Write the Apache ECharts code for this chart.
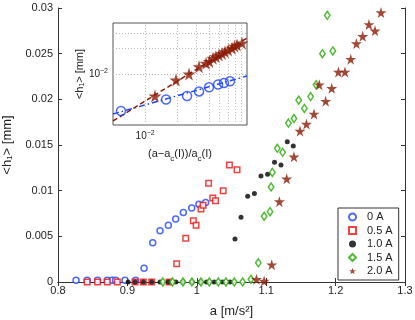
<!DOCTYPE html>
<html>
<head>
<meta charset="utf-8">
<script src="https://cdn.jsdelivr.net/npm/echarts@6/dist/echarts.min.js"></script>
<style>
html, body { margin: 0; padding: 0; background: #fff; }
#container { width: 415px; height: 320px; }
</style>
</head>
<body>
<div id="container"></div>
<script>
var dom = document.getElementById("container");
var myChart = echarts.init(dom);

// main plot: acceleration a [m/s^2] and mean height <h1> [mm], one pair of arrays per current
var a0 = [0.826, 0.842, 0.857, 0.871, 0.878, 0.883, 0.8965, 0.912, 0.924, 0.9365, 0.947, 0.959, 0.9696, 0.9806, 0.9927, 1.003, 1.0128];
var h0 = [0.0002, 0.0002, 0.0002, 0.0002, 0.0002, 0.0002, 0.0002, 0.0002, 0.0015, 0.0043, 0.0056, 0.0062, 0.0069, 0.0076, 0.0081, 0.0085, 0.0087];

var a05 = [0.842, 0.857, 0.871, 0.8855, 0.911, 0.923, 0.935, 0.960, 0.971, 0.984, 0.995, 0.999, 1.006, 1.009, 1.017, 1.023, 1.027, 1.038, 1.047, 1.058];
var h05 = [0, 0, 0, 0, 0, 0, 0, 0, 0.0020, 0.0048, 0.0067, 0.0062, 0.0080, 0.0084, 0.0108, 0.0092, 0.0089, 0.0100, 0.0128, 0.0123];

var a10 = [0.901, 0.911, 0.923, 0.935, 0.947, 0.959, 0.970, 0.980, 0.993, 1.005, 1.014, 1.025, 1.037, 1.048, 1.055, 1.0637, 1.0733, 1.083, 1.0925, 1.102, 1.112, 1.1213, 1.1304, 1.139];
var h10 = [0, 0, 0, 0, 0, 0, 0, 0, 0, 0, 0, 0, 0, 0, 0.0047, 0.0071, 0.0094, 0.0097, 0.0116, 0.0118, 0.0131, 0.0128, 0.01536, 0.0149];

var a15 = [0.951, 0.965, 0.980, 0.993, 1.006, 1.018, 1.031, 1.042, 1.054, 1.066, 1.078, 1.0886, 1.097, 1.1055, 1.107, 1.1088, 1.116, 1.1237, 1.132, 1.140, 1.1468, 1.155, 1.164, 1.1718, 1.181, 1.196, 1.188];
var h15 = [0, 0, 0, 0, 0, 0, 0, 0, 0, 0, 0.0003, 0.0021, 0.0072, 0.0077, 0.0104, 0.0120, 0.01464, 0.0142, 0.0174, 0.0179, 0.0199, 0.0190, 0.0203, 0.0216, 0.0250, 0.0253, 0.0292];

var a20 = [1.086, 1.097, 1.108, 1.119, 1.1295, 1.140, 1.1487, 1.158, 1.1689, 1.1765, 1.1857, 1.1944, 1.204, 1.2135, 1.2218, 1.230, 1.239, 1.248, 1.2568, 1.2654];
var h20 = [0.0003, 0.0001, 0.0019, 0.0088, 0.0113, 0.0137, 0.01653, 0.0173, 0.0184, 0.0216, 0.0198, 0.0212, 0.0230, 0.0230, 0.0244, 0.0261, 0.0269, 0.0282, 0.0275, 0.0295];

var seriesNames = ['0 A', '0.5 A', '1.0 A', '1.5 A', '2.0 A'];

// inset (log-log): reduced acceleration vs <h1>
var insX0 = [0.00594, 0.0157, 0.0247, 0.0320, 0.0397, 0.0482, 0.0548, 0.0624];
var insY0 = [0.00366, 0.0050, 0.0055, 0.00622, 0.00697, 0.00752, 0.00783, 0.0082];
var insX20 = [0.01236, 0.01945, 0.02576, 0.0320, 0.0372, 0.0400, 0.0432, 0.0460, 0.0492, 0.0525, 0.0560, 0.0600, 0.0651, 0.0690, 0.0726, 0.0807];
var insY20 = [0.0055, 0.00849, 0.0100, 0.0122, 0.01337, 0.0140, 0.01533, 0.0160, 0.01676, 0.0175, 0.01832, 0.0192, 0.0201, 0.0212, 0.0220, 0.0232];
var fitX = [0.005, 0.09];
var fitY0 = [0.00337, 0.00948];
var fitY20 = [0.00279, 0.0266];

// inset grid lines (log decades)
var insGridX = [0.006, 0.007, 0.008, 0.009, 0.01, 0.02, 0.03, 0.04, 0.05, 0.06, 0.07, 0.08];
var insGridY = [0.003, 0.004, 0.005, 0.006, 0.007, 0.008, 0.009, 0.01, 0.02, 0.03];

function pairs(xs, ys) {
    return xs.map(function (x, i) { return [x, ys[i]]; });
}

var FONT = 'Liberation Sans';
var blue = '#1f45ff';
var red = '#ee1111';
var green = '#22aa00';
var brown = '#8b1a05';
var star = 'path://M50,0 L61,35 L98,35 L68,57 L79,91 L50,70 L21,91 L32,57 L2,35 L39,35 Z';

function isDecade(v) {
    var l = Math.log(v) / Math.LN10;
    return Math.abs(l - Math.round(l)) < 1e-6;
}
function decadeLabel(v) {
    if (!isDecade(v)) return '';
    var e = Math.round(Math.log(v) / Math.LN10);
    return '10{s|' + (e < 0 ? '\u2212' + (-e) : e) + '}';
}

var mainTick = { show: true, inside: true, length: 4, lineStyle: { color: '#333' } };
var axisLine = { show: true, lineStyle: { color: '#333', width: 1 } };

var option = {
    animation: false,
    textStyle: { fontFamily: FONT },
    grid: [
        { left: 58, right: 10, top: 8, bottom: 38, outerBoundsMode: 'none', containLabel: false },
        { left: 113, top: 23, width: 134, height: 102, show: true, backgroundColor: '#fff', borderColor: '#555', borderWidth: 1, z: 5, outerBoundsMode: 'none', containLabel: false }
    ],
    legend: {
        orient: 'vertical',
        left: 338, top: 208,
        padding: [3, 6, 3, 10],
        itemGap: 1.5,
        itemWidth: 7, itemHeight: 7,
        backgroundColor: '#fff',
        borderColor: '#333', borderWidth: 1,
        textStyle: { fontFamily: FONT, fontSize: 11, color: '#222', padding: [0, 0, 0, 6], lineHeight: 12 },
        data: seriesNames
    },
    xAxis: [
        {
            type: 'value', gridIndex: 0, min: 0.8, max: 1.3, interval: 0.1,
            name: 'a [m/s\u00b2]', nameLocation: 'middle', nameGap: 23,
            nameTextStyle: { fontSize: 13, color: '#222' },
            axisLine: axisLine, axisTick: mainTick,
            axisLabel: { fontSize: 11, color: '#222', margin: 3 },
            splitLine: { show: false }
        },
        {
            type: 'value', gridIndex: 0, position: 'top', min: 0.8, max: 1.3, interval: 0.1,
            axisLine: axisLine, axisTick: mainTick, axisLabel: { show: false }, splitLine: { show: false }
        },
        {
            type: 'log', gridIndex: 1, min: 0.005, max: 0.09, logBase: 10,
            name: '{n|(a\u2212a}{s|c}{n|(I))/a}{s|c}{n|(I)}', nameLocation: 'middle', nameGap: 20,
            nameTextStyle: {
                rich: {
                    n: { fontSize: 11, color: '#222', fontFamily: FONT, lineHeight: 18, verticalAlign: 'middle' },
                    s: { fontSize: 8, color: '#222', fontFamily: FONT, lineHeight: 18, verticalAlign: 'bottom' }
                }
            },
            axisLine: { show: false }, axisTick: { show: false },
            axisLabel: {
                fontSize: 10, color: '#222', margin: 5, showMinLabel: false, showMaxLabel: false,
                formatter: decadeLabel,
                rich: { s: { fontSize: 7, color: '#222', verticalAlign: 'top', padding: [0, 0, 6, 0] } }
            },
            splitLine: { show: false }
        }
    ],
    yAxis: [
        {
            type: 'value', gridIndex: 0, min: 0, max: 0.03, interval: 0.005,
            name: '<h\u2081> [mm]', nameLocation: 'middle', nameGap: 44,
            nameTextStyle: { fontSize: 13, color: '#222' },
            axisLine: axisLine, axisTick: mainTick,
            axisLabel: { fontSize: 11, color: '#222', margin: 5 },
            splitLine: { show: false }
        },
        {
            type: 'value', gridIndex: 0, position: 'right', min: 0, max: 0.03, interval: 0.005,
            axisLine: axisLine, axisTick: mainTick, axisLabel: { show: false }, splitLine: { show: false }
        },
        {
            type: 'log', gridIndex: 1, min: 0.0025, max: 0.04, logBase: 10,
            name: '<h\u2081> [mm]', nameLocation: 'middle', nameGap: 27,
            nameTextStyle: { fontSize: 11, color: '#222' },
            axisLine: { show: false }, axisTick: { show: false },
            axisLabel: {
                fontSize: 10, color: '#222', margin: 5, showMinLabel: false, showMaxLabel: false,
                formatter: decadeLabel,
                rich: { s: { fontSize: 7, color: '#222', verticalAlign: 'top', padding: [0, 0, 6, 0] } }
            },
            splitLine: { show: false }
        }
    ],
    series: [
        {
            name: '0 A', type: 'scatter', xAxisIndex: 0, yAxisIndex: 0,
            symbol: 'circle', symbolSize: 6,
            itemStyle: { color: '#fff', borderColor: blue, borderWidth: 1.5 },
            data: pairs(a0, h0)
        },
        {
            name: '0.5 A', type: 'scatter', xAxisIndex: 0, yAxisIndex: 0,
            symbol: 'rect', symbolSize: 5.5,
            itemStyle: { color: '#fff', borderColor: red, borderWidth: 1.5 },
            data: pairs(a05, h05)
        },
        {
            name: '1.0 A', type: 'scatter', xAxisIndex: 0, yAxisIndex: 0,
            symbol: 'circle', symbolSize: 5,
            itemStyle: { color: '#000' },
            data: pairs(a10, h10)
        },
        {
            name: '1.5 A', type: 'scatter', xAxisIndex: 0, yAxisIndex: 0,
            symbol: 'diamond', symbolSize: [5.5, 8],
            itemStyle: { color: '#fff', borderColor: green, borderWidth: 1.5 },
            data: pairs(a15, h15)
        },
        {
            name: '2.0 A', type: 'scatter', xAxisIndex: 0, yAxisIndex: 0,
            symbol: star, symbolSize: 11,
            itemStyle: { color: brown },
            data: pairs(a20, h20)
        },
        // inset grid lines
        {
            type: 'line', xAxisIndex: 2, yAxisIndex: 2, data: [], silent: true, z: 6,
            markLine: {
                silent: true, symbol: 'none', animation: false,
                label: { show: false },
                lineStyle: { color: '#bbb', type: [1, 2], width: 1 },
                data: insGridX.map(function (v) { return { xAxis: v }; })
                    .concat(insGridY.map(function (v) { return { yAxis: v }; }))
            }
        },
        {
            type: 'line', xAxisIndex: 2, yAxisIndex: 2, z: 7, silent: true,
            symbol: 'none', lineStyle: { color: brown, width: 1.5, type: [5, 3] },
            data: pairs(fitX, fitY20)
        },
        {
            type: 'line', xAxisIndex: 2, yAxisIndex: 2, z: 7, silent: true,
            symbol: 'none', lineStyle: { color: blue, width: 1.5, type: [6, 3, 1.5, 3] },
            data: pairs(fitX, fitY0)
        },
        {
            type: 'scatter', xAxisIndex: 2, yAxisIndex: 2, z: 8, silent: true,
            symbol: 'circle', symbolSize: 9,
            itemStyle: { color: 'rgba(255,255,255,0)', borderColor: blue, borderWidth: 1.5 },
            data: pairs(insX0, insY0)
        },
        {
            type: 'scatter', xAxisIndex: 2, yAxisIndex: 2, z: 8, silent: true,
            symbol: star, symbolSize: 13,
            itemStyle: { color: brown },
            data: pairs(insX20, insY20)
        }
    ]
};

myChart.setOption(option);
</script>
</body>
</html>
